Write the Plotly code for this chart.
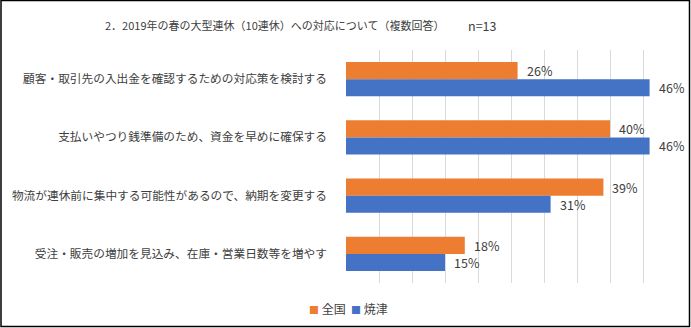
import plotly.graph_objects as go

# Survey items (multiple answers allowed)
categories = [
    "顧客・取引先の入出金を確認するための対応策を検討する",
    "支払いやつり銭準備のため、資金を早めに確保する",
    "物流が連休前に集中する可能性があるので、納期を変更する",
    "受注・販売の増加を見込み、在庫・営業日数等を増やす",
]
national = [26, 40, 39, 18]   # 全国 (%)
yaizu = [46, 46, 31, 15]      # 焼津 (%)
series_names = ["全国", "焼津"]
series_colors = ["#ED7D31", "#4472C4"]
x_ticks = [0, 5, 10, 15, 20, 25, 30, 35, 40, 45, 50]

W, H = 691, 328
ML, MR, MT, MB = 346, 15, 50, 45
PW, PH = W - ML - MR, H - MT - MB

FONT = "Noto Sans CJK JP"
TXT = "#404040"


def px_x(px):
    return (px - ML) / PW


def px_y(py):
    return (H - MB - py) / PH


fig = go.Figure()
for name, vals, color in zip(series_names, [national, yaizu], series_colors):
    fig.add_trace(go.Bar(
        y=categories, x=vals, name=name, orientation="h",
        marker=dict(color=color, line=dict(width=0)),
        offsetgroup=name, showlegend=False,
    ))

annotations = []
# value labels placed just past the end of each bar
for k, vals in enumerate([national, yaizu]):
    for i, v in enumerate(vals):
        annotations.append(dict(
            text=f"{v}%", x=v, y=categories[i], xref="x", yref="y",
            xanchor="left", yanchor="middle", xshift=7,
            yshift=(8.5 if k == 0 else -8.5), showarrow=False,
            font=dict(family=FONT, size=12.5, color=TXT),
        ))

# legend entries: colored square followed by the series name
for name, color, left in zip(series_names, series_colors, [307, 349]):
    annotations.append(dict(
        text=f"<span style='color:{color};font-size:10px'>■</span> {name}",
        xref="paper", yref="paper", x=px_x(left), y=px_y(308),
        xanchor="left", yanchor="middle", showarrow=False,
        font=dict(family=FONT, size=12, color=TXT),
    ))

annotations += [
    dict(text="2．2019年の春の大型連休（10連休）への対応について（複数回答）",
         xref="paper", yref="paper", x=px_x(103), y=px_y(25),
         xanchor="left", yanchor="middle", showarrow=False,
         font=dict(family=FONT, size=11, color=TXT)),
    dict(text="n=13",
         xref="paper", yref="paper", x=px_x(466), y=px_y(25),
         xanchor="left", yanchor="middle", showarrow=False,
         font=dict(family=FONT, size=12.5, color=TXT)),
]

fig.update_layout(
    width=W, height=H,
    margin=dict(l=ML, r=MR, t=MT, b=MB),
    barmode="group", bargap=0.41, bargroupgap=0,
    plot_bgcolor="white", paper_bgcolor="white",
    font=dict(family=FONT, size=12, color=TXT),
    showlegend=False,
    xaxis=dict(
        range=[0, 50], tickvals=x_ticks, showticklabels=False,
        showgrid=True, gridcolor="#D9D9D9", gridwidth=1,
        zeroline=False, showline=False, fixedrange=True, automargin=False,
    ),
    yaxis=dict(
        autorange="reversed", showgrid=False, zeroline=False,
        showline=False, ticks="", ticklabelstandoff=18, automargin=False,
        tickfont=dict(family=FONT, size=11.7, color=TXT),
    ),
    annotations=annotations,
    shapes=[
        dict(type="rect", xref="paper", yref="paper",
             x0=px_x(1), x1=px_x(689.5), y0=px_y(326.5), y1=px_y(0.5),
             line=dict(color="black", width=1.5), fillcolor="rgba(0,0,0,0)",
             layer="above"),
    ],
)

fig.write_html("out.html")
